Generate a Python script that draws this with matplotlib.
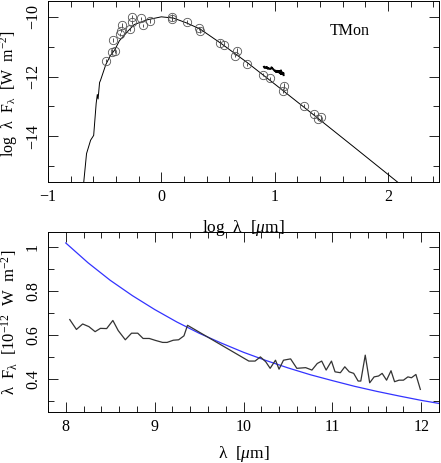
import numpy as np
import matplotlib.pyplot as plt
from matplotlib.ticker import MultipleLocator, FuncFormatter

plt.rcParams['font.family'] = ['Liberation Serif', 'DejaVu Serif']
plt.rcParams['mathtext.fontset'] = 'custom'
plt.rcParams['mathtext.rm'] = 'Liberation Serif'
plt.rcParams['mathtext.it'] = 'Liberation Serif:italic'

# model SED (log lambda [um], log lambda F_lambda [W m^-2])
model_logwl = [-0.685, -0.66, -0.624, -0.597, -0.575, -0.565, -0.558, -0.545, -0.537,
               -0.49, -0.45, -0.41, -0.37, -0.30, -0.24, -0.126, 0.0, 0.105, 0.22,
               0.343, 0.534, 0.754, 1.017, 1.34, 1.69, 2.09]
model_logf = [-15.55, -14.58, -14.13, -13.97, -12.9, -12.6, -12.75, -12.2, -12.13,
              -11.6, -11.3, -11.1, -10.8, -10.5, -10.26, -10.1, -10.0, -10.04, -10.2,
              -10.41, -10.91, -11.52, -12.3, -13.27, -14.33, -15.55]

# photometry
phot_logwl = [-0.484, -0.435, -0.405, -0.43, -0.367, -0.355, -0.346, -0.273, -0.256,
              -0.256, -0.18, -0.166, -0.10, 0.097, 0.097, 0.225, 0.336, 0.342, 0.519,
              0.554, 0.651, 0.672, 0.759, 0.90, 0.958, 1.07, 1.085, 1.258, 1.346, 1.384, 1.405]
phot_logf = [-11.47, -11.19, -11.13, -10.78, -10.58, -10.47, -10.28, -10.42, -10.0,
             -10.17, -10.04, -10.28, -10.13, -10.0, -10.08, -10.17, -10.39, -10.47, -10.86,
             -10.94, -11.3, -11.13, -11.58, -11.94, -12.06, -12.47, -12.3, -12.97, -13.24, -13.41, -13.36]
phot_err = [0.05, 0.1, 0.08, 0.06, 0.05, 0.05, 0.08, 0.05, 0.06,
            0.08, 0.05, 0.05, 0.06, 0.08, 0.05, 0.06, 0.05, 0.08, 0.1,
            0.05, 0.05, 0.1, 0.05, 0.05, 0.05, 0.08, 0.1, 0.05, 0.05, 0.05, 0.08]

# N-band spectrum (lambda [um], lambda F_lambda [1e-12 W m^-2])
spec_wl = [8.045, 8.12, 8.19, 8.26, 8.33, 8.39, 8.46, 8.53, 8.59, 8.67, 8.74, 8.81,
           8.87, 8.94, 9.01, 9.09, 9.14, 9.21, 9.27, 9.33, 9.37,
           10.06, 10.13, 10.19, 10.25, 10.30, 10.36, 10.40, 10.45, 10.53, 10.60, 10.70,
           10.77, 10.83, 10.88, 10.93, 10.99, 11.03, 11.09, 11.14, 11.19, 11.24, 11.29,
           11.32, 11.37, 11.42, 11.47, 11.52, 11.56, 11.61, 11.66, 11.70, 11.75, 11.80,
           11.85, 11.89, 11.94, 11.99]
spec_f = [0.671, 0.626, 0.651, 0.639, 0.616, 0.631, 0.630, 0.667, 0.621, 0.579, 0.609, 0.609,
          0.585, 0.585, 0.576, 0.567, 0.567, 0.577, 0.579, 0.597, 0.645,
          0.482, 0.482, 0.501, 0.479, 0.449, 0.486, 0.445, 0.486, 0.492, 0.449, 0.452, 0.441,
          0.471, 0.482, 0.441, 0.482, 0.433, 0.429, 0.456, 0.433, 0.426, 0.391, 0.391,
          0.509, 0.383, 0.41, 0.414, 0.426, 0.395, 0.438, 0.388, 0.395, 0.395, 0.41,
          0.406, 0.421, 0.353]

# model in N band
mod_wl = [8.0, 8.25, 8.5, 8.75, 9.0, 9.25, 9.5, 9.75, 10.0, 10.25, 10.5, 10.75,
          11.0, 11.25, 11.5, 11.75, 12.0, 12.2]
mod_f = [1.02, 0.93, 0.85, 0.78, 0.717, 0.66, 0.609, 0.564, 0.522, 0.485, 0.451, 0.420,
         0.393, 0.367, 0.344, 0.323, 0.303, 0.289]

spec_offset = 0.5  # shift of spectrum in top panel

fmt = FuncFormatter(lambda v, p: ('%g' % v).replace('-', '\u2212'))

fig = plt.figure(figsize=(4.41, 4.63), dpi=100)
ax1 = fig.add_axes([48/441, 1 - 182/463, 391/441, 181/463])
ax2 = fig.add_axes([48/441, 1 - 412/463, 391/441, 180/463])
ax2.patch.set_alpha(0)

ax1.plot(model_logwl, model_logf, color='black', lw=0.7)
ax1.errorbar(phot_logwl, phot_logf, yerr=phot_err, fmt='o', ms=6, mfc='none',
             mec='#555555', mew=0.6, ecolor='#333333', elinewidth=0.6, capsize=0)
ax1.plot(np.log10(spec_wl), np.log10(np.array(spec_f) * 1e-12) + spec_offset,
         color='black', lw=1.4)
ax1.text(1.66, -10.49, 'TMon', fontsize=11.5, ha='center', va='center')
ax1.set_xlim(-1, 2.45)
ax1.set_ylim(-15.53, -9.47)
ax1.set_xlabel(r'log  λ  [$\mathit{μ}$m]', fontsize=12.5)
ax1.xaxis.set_label_coords(0.5, -0.2)
ax1.set_ylabel(r'log  λ  F$_{\mathrm{λ}}$  [W  m$^{-2}$]', fontsize=11.5)
ax1.yaxis.set_label_coords(-0.072, 0.49)
ax1.xaxis.set_major_locator(MultipleLocator(1))
ax1.xaxis.set_minor_locator(MultipleLocator(0.2))
ax1.yaxis.set_major_locator(MultipleLocator(2))
ax1.yaxis.set_minor_locator(MultipleLocator(1))

ax2.plot(mod_wl, mod_f, color='#3333ff', lw=0.9)
ax2.plot(spec_wl, spec_f, color='#333333', lw=0.9)
ax2.set_xlim(7.8, 12.2)
ax2.set_ylim(0.25, 1.07)
ax2.set_xlabel(r'λ  [$\mathit{μ}$m]', fontsize=12.5)
ax2.xaxis.set_label_coords(0.5, -0.18)
ax2.set_ylabel(r'λ  F$_{\mathrm{λ}}$  [10$^{-12}$  W  m$^{-2}$]', fontsize=12)
ax2.yaxis.set_label_coords(-0.072, 0.5)
ax2.xaxis.set_major_locator(MultipleLocator(1))
ax2.xaxis.set_minor_locator(MultipleLocator(0.2))
ax2.yaxis.set_major_locator(MultipleLocator(0.2))
ax2.yaxis.set_minor_locator(MultipleLocator(0.1))

for ax in (ax1, ax2):
    ax.xaxis.set_major_formatter(fmt)
    ax.yaxis.set_major_formatter(fmt)
    ax.tick_params(which='both', direction='in', top=True, right=True, labelsize=11.5,
                   width=0.6, colors='black')
    ax.tick_params(which='major', length=7, pad=5)
    ax.tick_params(which='minor', length=4)
    for lab in ax.get_yticklabels():
        lab.set_rotation(90)
        lab.set_va('center')
    for s in ax.spines.values():
        s.set_linewidth(0.7)

fig.savefig('out.png', dpi=100)
